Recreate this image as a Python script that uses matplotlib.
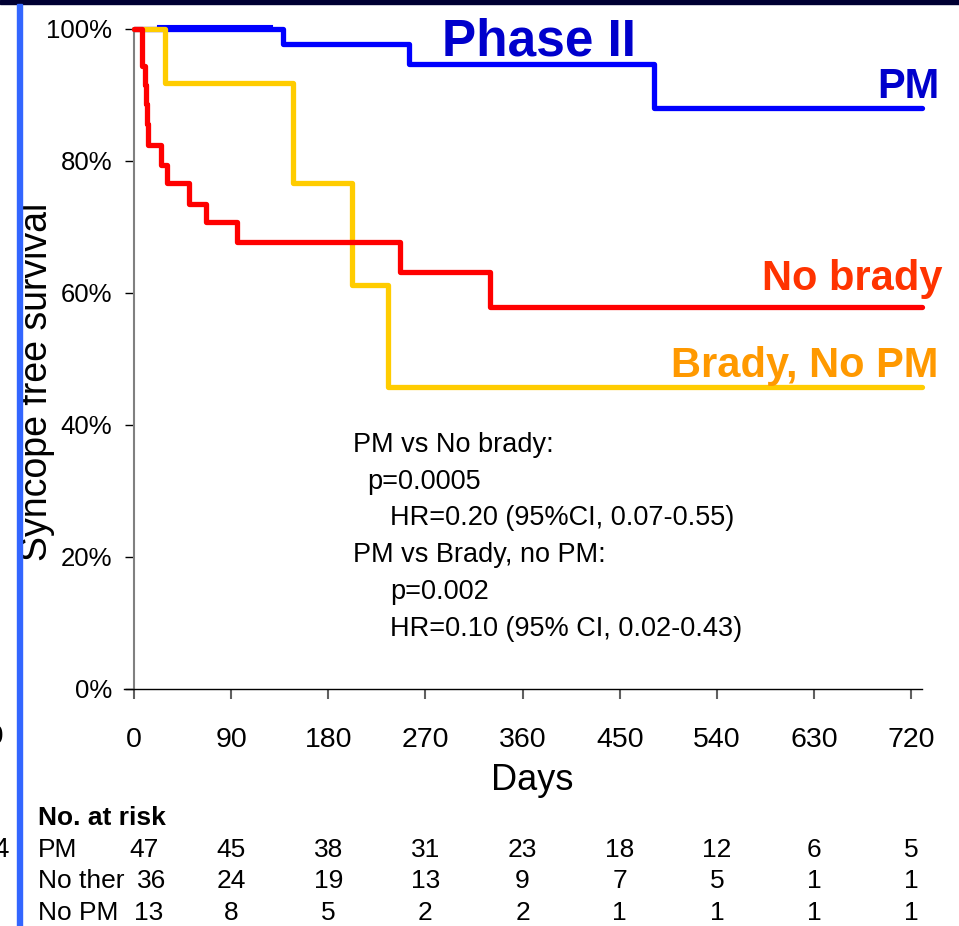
import matplotlib.pyplot as plt
from matplotlib.patches import Rectangle

plt.rcParams['font.family'] = ['Liberation Sans', 'DejaVu Sans']

# ---- data ----
day_ticks = [0, 90, 180, 270, 360, 450, 540, 630, 720]
pct_ticks = [0, 20, 40, 60, 80, 100]

pm_days = [0, 138, 255, 482, 730]
pm_surv = [100, 97.8, 94.7, 88.0, 88.0]
pm_thin_days = [22, 128]          # thin blue mark just above 100%
pm_thin_surv = [100.5, 100.5]

nobrady_days = [0, 7, 10, 11, 12, 13, 25, 31, 51, 67, 95, 246, 330, 730]
nobrady_surv = [100, 94.4, 91.5, 88.6, 85.6, 82.4, 79.4, 76.6, 73.5, 70.8, 67.7, 63.2, 57.9, 57.9]

brady_days = [0, 29, 147, 202, 235, 730]
brady_surv = [100, 91.8, 76.6, 61.2, 45.8, 45.8]

risk_labels = ["PM", "No ther", "No PM"]
risk_pm = [47, 45, 38, 31, 23, 18, 12, 6, 5]
risk_noth = [36, 24, 19, 13, 9, 7, 5, 1, 1]
risk_nopm = [13, 8, 5, 2, 2, 1, 1, 1, 1]

stats_lines = [
    ("PM vs No brady:", 0),
    ("p=0.0005", 1),
    ("HR=0.20 (95%CI, 0.07-0.55)", 2),
    ("PM vs Brady, no PM:", 0),
    ("p=0.002", 2),
    ("HR=0.10 (95% CI, 0.02-0.43)", 2),
]

W, H = 959, 926
fig = plt.figure(figsize=(W / 100, H / 100), dpi=100)
ax = fig.add_axes([134 / W, 1 - 689 / H, 788 / W, 660 / H])

# slide decorations
fig.patches.append(Rectangle((0, 1 - 4 / H), 1, 4 / H, transform=fig.transFigure,
                             color="#000033", zorder=5))
fig.patches.append(Rectangle((17 / W, 0), 5 / W, 1 - 4 / H, transform=fig.transFigure,
                             color="#3366ff", zorder=5))
# edges of the neighbouring slide's labels, cut off as in the reference
fig.text(3 / W, 1 - 737 / H, "0", fontsize=20, ha="right", va="center")
fig.text(9 / W, 1 - 850 / H, "4", fontsize=20, ha="right", va="center")

lw = 3.8
kw = dict(where="post", lw=lw, clip_on=False, solid_capstyle="round", solid_joinstyle="round")
ax.step(pm_days, pm_surv, color="#0000ff", zorder=3, **kw)
ax.plot(pm_thin_days, pm_thin_surv, color="#0000ff", lw=1.5, clip_on=False, zorder=3)
ax.step(brady_days, brady_surv, color="#ffcc00", zorder=4, **kw)
ax.step(nobrady_days, nobrady_surv, color="#ff0000", zorder=5, **kw)

ax.set_xlim(0, 730)
ax.set_ylim(0, 100)
ax.set_xticks(day_ticks)
ax.set_xticklabels([str(d) for d in day_ticks])
ax.set_yticks(pct_ticks)
ax.set_yticklabels([f"{p}%" for p in pct_ticks])
ax.tick_params(axis="x", labelsize=20.5, length=7.2, width=1.5, color="#606060", pad=20)
ax.tick_params(axis="y", labelsize=18.5, length=6.5, width=1, color="#000000", pad=9)
for s in ["top", "right"]:
    ax.spines[s].set_visible(False)
ax.spines["left"].set_color("#808080")
ax.spines["left"].set_linewidth(1.5)
ax.spines["bottom"].set_color("#000000")
ax.spines["bottom"].set_linewidth(1)
ax.spines["bottom"].set_bounds(-9, 730)

fig.text(532 / W, 1 - 780 / H, "Days", fontsize=26, ha="center", va="center")
fig.text(37 / W, 1 - 382 / H, "Syncope free survival", fontsize=27,
         rotation=90, ha="center", va="center")

# curve labels
fig.text(636 / W, 1 - 42 / H, "Phase II", fontsize=37, fontweight="bold",
         color="#0000cc", ha="right", va="center")
fig.text(940 / W, 1 - 87 / H, "PM", fontsize=30, fontweight="bold",
         color="#0000cc", ha="right", va="center")
fig.text(942 / W, 1 - 279 / H, "No brady", fontsize=30, fontweight="bold",
         color="#ff3300", ha="right", va="center")
fig.text(938 / W, 1 - 366 / H, "Brady, No PM", fontsize=30, fontweight="bold",
         color="#ff9900", ha="right", va="center")

# stats block
for i, (txt, ind) in enumerate(stats_lines):
    x0 = [353, 367, 390][ind]
    fig.text(x0 / W, 1 - (445 + i * 36.7) / H, txt, fontsize=19.5, ha="left", va="center")

# number at risk table
fig.text(38 / W, 1 - 818 / H, "No. at risk", fontsize=19, fontweight="bold",
         ha="left", va="center")
rows = [risk_pm, risk_noth, risk_nopm]
first_col = [9, 16, 14]
for r, (lab, vals) in enumerate(zip(risk_labels, rows)):
    yy = 1 - (850 + r * 31.5) / H
    fig.text(38 / W, yy, lab, fontsize=19, ha="left", va="center")
    for j, (d, v) in enumerate(zip(day_ticks, vals)):
        xd = first_col[r] if j == 0 else d
        xf = fig.transFigure.inverted().transform(ax.transData.transform((xd, 0)))[0]
        fig.text(xf, yy, str(v), fontsize=19, ha="center", va="center")

fig.savefig("out.png", dpi=100)
